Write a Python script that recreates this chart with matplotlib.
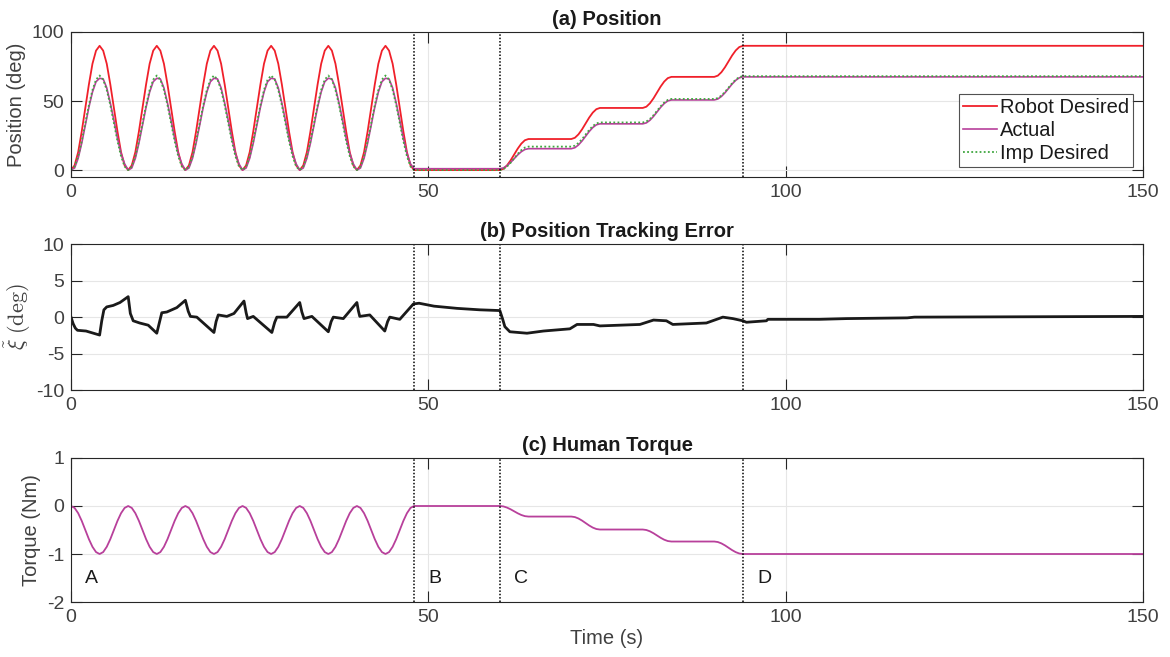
import numpy as np
import matplotlib
matplotlib.use("Agg")
import matplotlib.pyplot as plt

# ------------------------------ DATA ------------------------------ #

# one 8 s oscillation cycle, sampled every 0.5 s (phase A repeats it 6 times)
cycle_t = [0, 0.5, 1, 1.5, 2, 2.5, 3, 3.5, 4, 4.5, 5, 5.5, 6, 6.5, 7, 7.5]
robot_cycle = [0, 3.4, 13, 28, 45, 62, 77, 86.5, 90, 86.5, 77, 62, 45, 28, 13, 3.4]
imp_cycle = [0, 2.6, 10, 21, 34, 47, 58, 65.5, 68.5, 65.5, 58, 47, 34, 21, 10, 2.6]
actual_cycle = [0, 1.5, 8.5, 19.5, 32.5, 45.5, 56.5, 64, 66.5, 66, 59.5, 48.5, 36, 23, 12, 4.5]
torque_cycle = [0, -0.04, -0.15, -0.31, -0.5, -0.69, -0.85, -0.96, -1, -0.96, -0.85, -0.69, -0.5, -0.31, -0.15, -0.04]
n_cycles = 6

# phase C: staircase, 4 s s-shaped ramps then holds
step_starts = [60, 70, 80, 90]
ramp_t = [0, 0.5, 1, 1.5, 2, 2.5, 3, 3.5, 4]
ramp_shape = [0, 0.04, 0.15, 0.31, 0.5, 0.69, 0.85, 0.96, 1]
robot_levels = [0, 22.5, 45, 67.5, 90]
imp_levels = [0, 17, 34.5, 51.5, 68]
actual_levels = [1, 15.5, 33.5, 50.8, 67.5]
torque_levels = [0, -0.22, -0.49, -0.74, -1.0]
t_end = 150

# tracking error
err_t = [0, 0.3, 0.6, 0.9, 2.1, 4.0, 4.3, 4.6, 5.0, 5.9, 6.85, 8.0, 8.3, 8.7, 9.6, 10.8, 12.0, 12.4, 12.7, 13.4,
         14.8, 16.0, 16.4, 16.7, 17.6, 20.0, 20.3, 20.6, 21.8, 22.8, 24.2, 24.5, 24.7, 25.5, 28.1, 28.5, 28.8, 30.2,
         32.0, 32.3, 32.6, 33.7, 36.0, 36.4, 36.7, 38.1, 40.0, 40.2, 40.4, 41.8, 43.9, 44.3, 44.6, 46.0, 47.9,
         48.7, 50.8, 54.0, 57.2, 60.0, 60.4, 60.7, 61.4, 63.8, 66.1, 69.8, 70.8, 73.1, 74.0,
         79.6, 81.5, 83.3, 84.2, 88.9, 91.2, 92.6, 94.0, 94.5, 97.3, 97.5, 104.7, 108.5,
         117.0, 118.0, 150]
err_v = [0, -0.9, -1.5, -1.8, -1.9, -2.45, -0.5, 1.0, 1.4, 1.6, 2.0, 2.8, 0.5, -0.5, -0.8, -1.1, -2.2, -0.6, 0.6, 0.7,
         1.3, 2.3, 0.8, 0.1, 0.0, -2.1, -0.6, 0.3, 0.1, 0.5, 2.2, 0.6, -0.2, 0.1, -2.1, -0.7, 0.0, 0.0,
         2.0, 0.7, -0.2, 0.1, -2.0, -0.6, 0.0, -0.2, 2.0, 0.9, 0.1, 0.3, -1.9, -0.6, 0.0, -0.3, 1.8,
         1.9, 1.5, 1.2, 1.0, 0.9, -0.3, -1.3, -2.0, -2.2, -1.9, -1.6, -1.0, -1.0, -1.2,
         -1.0, -0.4, -0.5, -1.0, -0.8, 0.0, -0.2, -0.5, -0.7, -0.5, -0.3, -0.3, -0.2,
         -0.1, 0.0, 0.1]

phase_lines = [48, 60, 94]
phase_labels = ["A", "B", "C", "D"]
phase_label_x = [2, 50, 62, 96]


def build(cycle, levels, hold_b):
	t = []
	v = []
	for k in range(n_cycles):
		t += [k * 8 + c for c in cycle_t]
		v += list(cycle)
	t += [48, 60]
	v += [hold_b, hold_b]
	for i, s in enumerate(step_starts):
		lo, hi = levels[i], levels[i + 1]
		if i == 0:
			lo = hold_b
		t += [s + r for r in ramp_t]
		v += [lo + (hi - lo) * f for f in ramp_shape]
	t.append(t_end)
	v.append(levels[-1])
	return np.array(t), np.array(v)


t_r, robot = build(robot_cycle, robot_levels, 0.0)
t_i, imp = build(imp_cycle, imp_levels, 0.0)
t_a, actual = build(actual_cycle, actual_levels, 1.0)
t_q, torque = build(torque_cycle, torque_levels, 0.0)

# ------------------------------ PLOT ------------------------------ #

plt.rcParams['font.family'] = ['Liberation Sans', 'DejaVu Sans']
plt.rcParams['mathtext.fontset'] = 'cm'
plt.rcParams['axes.unicode_minus'] = False
txt = '#404040'
edge = '#262626'

fig = plt.figure(figsize=(11.7, 6.57), dpi=100)
ax1 = fig.add_axes([0.0607, 0.7306, 0.9163, 0.2207])
ax2 = fig.add_axes([0.0607, 0.4060, 0.9163, 0.2226])
ax3 = fig.add_axes([0.0607, 0.0837, 0.9163, 0.2192])


def style(ax, ylim, yticks, title):
	ax.set_xlim(0, 150)
	ax.set_ylim(*ylim)
	ax.set_xticks([0, 50, 100, 150])
	ax.set_yticks(yticks)
	ax.grid(True, color='#e6e6e6', lw=0.8)
	ax.set_axisbelow(True)
	ax.tick_params(direction='in', length=8, width=0.8, top=True, right=True,
				   labelsize=14, colors=edge, labelcolor=txt, pad=5)
	for sp in ax.spines.values():
		sp.set_color(edge)
		sp.set_linewidth(0.8)
	ax.set_title(title, fontsize=14.5, fontweight='bold', color='#1a1a1a', pad=5)
	for x in phase_lines:
		ax.axvline(x, color='black', ls=(0, (1, 1.2)), lw=1.1)


ax1.plot(t_r, robot, color='#f0202a', lw=1.3, label='Robot Desired')
ax1.plot(t_a, actual, color='#b8409b', lw=1.2, label='Actual')
ax1.plot(t_i, imp, color='#3fa63f', lw=1.3, ls=(0, (1, 1.3)), label='Imp Desired')
style(ax1, (-5, 100), [0, 50, 100], '(a) Position')
ax1.set_ylabel('Position (deg)', fontsize=14.5, color=txt, labelpad=4)
leg = ax1.legend(loc='lower right', fontsize=14.5, frameon=True, fancybox=False,
				 handlelength=1.7, handletextpad=0.15, labelspacing=0.2,
				 borderpad=0.2, borderaxespad=0.5)
leg.get_frame().set_edgecolor(edge)
leg.get_frame().set_linewidth(0.8)
for t in leg.get_texts():
	t.set_color('#1a1a1a')

ax2.plot(err_t, err_v, color='#1a1a1a', lw=2.0)
style(ax2, (-10, 10), [-10, -5, 0, 5, 10], '(b) Position Tracking Error')
ax2.set_ylabel(r'$\tilde{\xi}\ \mathrm{(deg)}$', fontsize=16, color=txt, labelpad=2)

ax3.plot(t_q, torque, color='#b8409b', lw=1.3)
style(ax3, (-2, 1), [-2, -1, 0, 1], '(c) Human Torque')
ax3.set_ylabel('Torque (Nm)', fontsize=14.5, color=txt, labelpad=4)
ax3.set_xlabel('Time (s)', fontsize=14.5, color=txt, labelpad=2)
for lab, x in zip(phase_labels, phase_label_x):
	ax3.text(x, -1.5, lab, fontsize=14, color='#1a1a1a', ha='left', va='center')

fig.savefig('out.png', dpi=100)
